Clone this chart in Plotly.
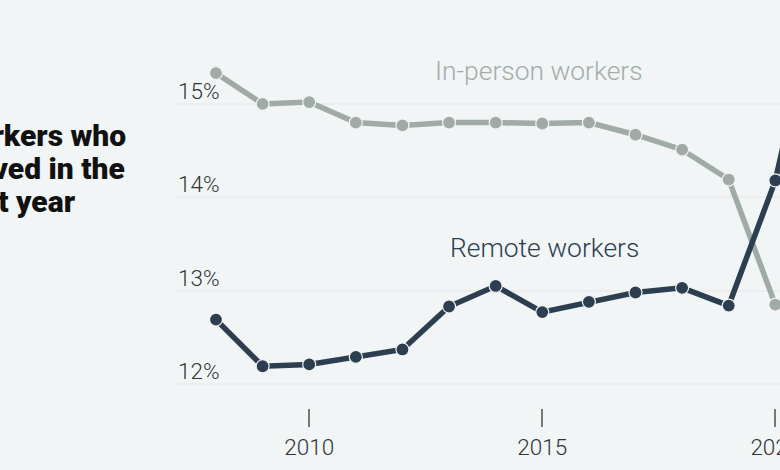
import plotly.graph_objects as go

BG = '#f1f5f6'
DARK = '#2c3e50'
GREY = '#a0aaa6'

years = [2008, 2009, 2010, 2011, 2012, 2013, 2014, 2015, 2016, 2017, 2018, 2019, 2020, 2021]
in_person = [15.33, 15.0, 15.02, 14.8, 14.77, 14.8, 14.8, 14.79, 14.8, 14.67, 14.51, 14.19, 12.85, None]
remote = [12.69, 12.19, 12.21, 12.29, 12.37, 12.83, 13.05, 12.77, 12.88, 12.98, 13.03, 12.84, 14.18, 16.4]

y_ticks = [12, 13, 14, 15]
y_labels = ['12%', '13%', '14%', '15%']
x_ticks = [2010, 2015, 2020]
x_labels = ['2010', '2015', '2020']

title_lines = ['Workers who', 'moved in the', 'past year']

fig = go.Figure()


def add_line(values, color):
    fig.add_trace(go.Scatter(x=years, y=values, mode='lines+markers',
                             line=dict(color=color, width=5.5),
                             marker=dict(color=color, size=13,
                                         line=dict(color=BG, width=1.2)),
                             cliponaxis=True, showlegend=False,
                             hoverinfo='skip'))


add_line(in_person, GREY)
add_line(remote, DARK)

# y labels sit on top of the gridlines, at the left of the plot
for val, lab in zip(y_ticks, y_labels):
    fig.add_annotation(x=0, xref='paper', y=val, yref='y', text=lab,
                       showarrow=False, xanchor='left', yanchor='bottom',
                       yshift=-2, font=dict(family='Roboto', size=22.5, color='#333333', weight=300))

fig.add_annotation(x=2014.93, y=15.35, text='In-person workers', showarrow=False,
                   font=dict(family='Roboto', size=26.4, color='#a3adaa', weight=300))
fig.add_annotation(x=2015.05, y=13.46, text='Remote workers', showarrow=False,
                   font=dict(family='Roboto', size=26.4, color='#2c3e50', weight=300))

# title runs off the left edge of the page, as in the crop
for i, line in enumerate(title_lines):
    fig.add_annotation(x=-0.3775, xref='paper', y=0.669, yref='paper', text=line,
                       showarrow=False, xanchor='left', yanchor='middle', align='left',
                       yshift=-33 * i,
                       font=dict(family='Roboto', size=30, color='#111111', weight=900))

fig.update_layout(width=780, height=470,
                  margin=dict(l=176, r=0, t=0, b=62, autoexpand=False),
                  paper_bgcolor=BG, plot_bgcolor=BG,
                  font=dict(family='Roboto', color='#333333'))
fig.update_xaxes(range=[2007.142, 2020.1], tickvals=x_ticks, ticktext=x_labels,
                 ticks='outside', ticklen=18, tickwidth=1.5, tickcolor='#777777',
                 ticklabelstandoff=1, ticklabeloverflow='allow', automargin=False,
                 tickfont=dict(family='Roboto', size=22.5, color='#333333', weight=300),
                 showgrid=False, zeroline=False, showline=False)
fig.update_yaxes(range=[11.743, 16.113], tickvals=y_ticks, showticklabels=False,
                 showgrid=True, gridcolor='#ebedee', gridwidth=1.5,
                 zeroline=False, showline=False)

fig.write_html("out.html", post_script="document.body.style.margin='0';",
               config=dict(displayModeBar=False))
